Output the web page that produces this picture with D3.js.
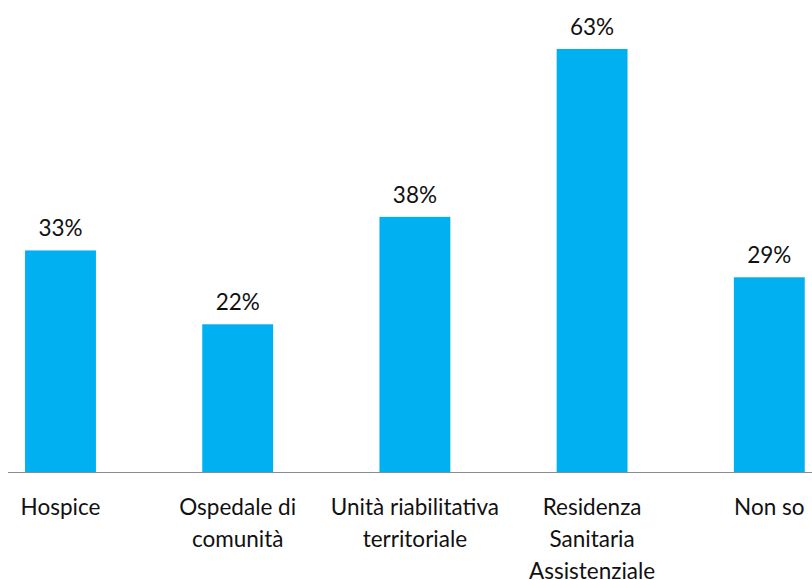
<!DOCTYPE html>
<html><head><meta charset="utf-8">
<script src="https://cdn.jsdelivr.net/npm/d3@7"></script>
<style>body{margin:0;background:#fff}svg{display:block}</style>
</head><body>
<svg id="c" width="812" height="580"></svg>
<script>
const categories = [
  ["Hospice"],
  ["Ospedale di", "comunità"],
  ["Unità riabilitativa", "territoriale"],
  ["Residenza", "Sanitaria", "Assistenziale"],
  ["Non so"]
];
const values = [0.33, 0.22, 0.38, 0.63, 0.29];
const valueLabels = ["33%", "22%", "38%", "63%", "29%"];

const svg = d3.select("#c");
const font = "Lato, 'Open Sans', sans-serif";
const x = d3.scaleBand().domain(d3.range(categories.length))
  .range([-28.1, 857.9]).paddingInner(0.6).paddingOuter(0.3);
const y = d3.scaleLinear().domain([0, 0.7]).range([472, 2]);

svg.selectAll("rect.bar").data(values).join("rect")
  .attr("class", "bar")
  .attr("x", (d, i) => x(i)).attr("width", x.bandwidth())
  .attr("y", d => y(d)).attr("height", d => y(0) - y(d))
  .attr("fill", "#00B0F0");

svg.append("line").attr("x1", 8).attr("x2", 812)
  .attr("y1", y(0) + 0.5).attr("y2", y(0) + 0.5)
  .attr("stroke", "#8c8c8c").attr("stroke-width", 1.2);

svg.selectAll("text.val").data(values).join("text")
  .attr("class", "val")
  .attr("x", (d, i) => x(i) + x.bandwidth() / 2)
  .attr("y", d => y(d) - 14)
  .attr("text-anchor", "middle")
  .attr("font-family", font).attr("font-size", 22.5).attr("fill", "#111")
  .text((d, i) => valueLabels[i]);

const g = svg.selectAll("text.cat").data(categories).join("text")
  .attr("class", "cat")
  .attr("text-anchor", "middle")
  .attr("font-family", font).attr("font-size", 22.5).attr("fill", "#111");
g.each(function(lines, i) {
  const t = d3.select(this);
  lines.forEach((ln, j) => {
    t.append("tspan").attr("x", x(i) + x.bandwidth() / 2)
      .attr("y", 515 + j * 32).text(ln);
  });
});
</script>
</body></html>
